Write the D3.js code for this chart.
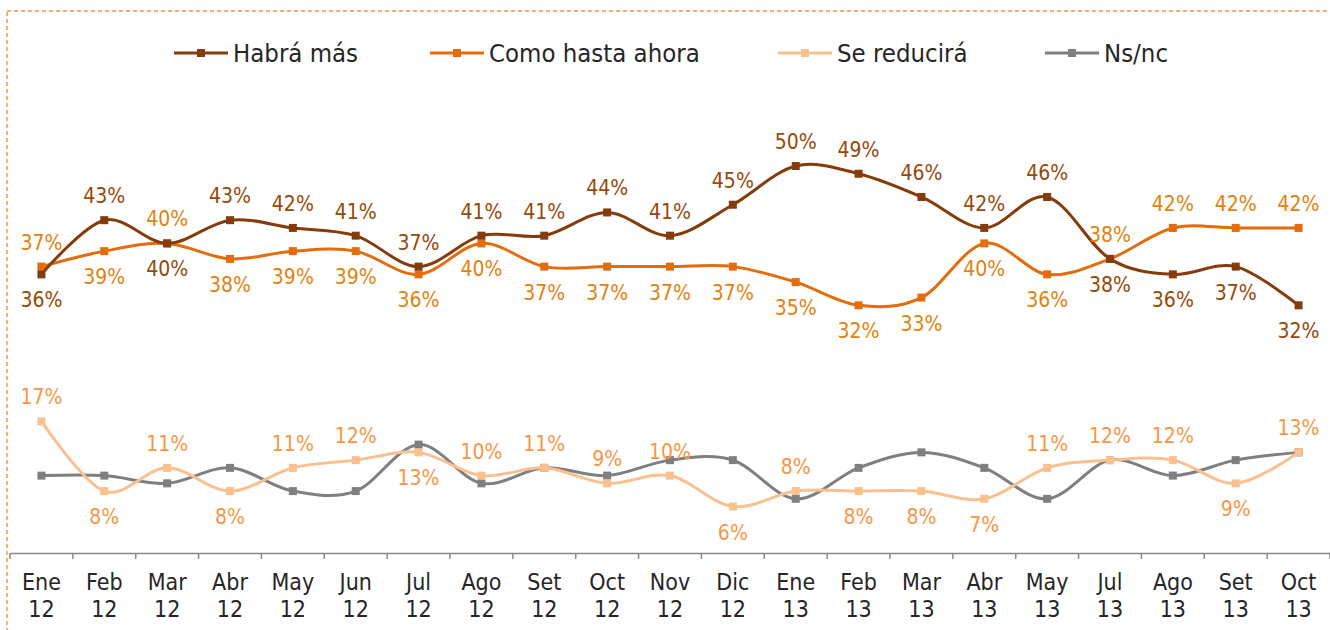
<!DOCTYPE html>
<html><head><meta charset="utf-8">
<script src="https://cdn.jsdelivr.net/npm/d3@7"></script>
<style>body{margin:0;background:#fff;} svg{display:block;}</style>
</head><body>
<svg id="chart" width="1330" height="630"></svg>
<script>
const categories = ["Ene 12","Feb 12","Mar 12","Abr 12","May 12","Jun 12","Jul 12","Ago 12","Set 12","Oct 12","Nov 12","Dic 12","Ene 13","Feb 13","Mar 13","Abr 13","May 13","Jul 13","Ago 13","Set 13","Oct 13"];
const habraMas       = [36,43,40,43,42,41,37,41,41,44,41,45,50,49,46,42,46,38,36,37,32];
const comoHastaAhora = [37,39,40,38,39,39,36,40,37,37,37,37,35,32,33,40,36,38,42,42,42];
const seReducira     = [17,8,11,8,11,12,13,10,11,9,10,6,8,8,8,7,11,12,12,9,13];
const nsNc           = [10,10,9,11,8,8,14,9,11,10,12,12,7,11,13,11,7,12,10,12,13];
const seriesNames = ["Habrá más","Como hasta ahora","Se reducirá","Ns/nc"];
// label placement: "a" above, "b" below
const habraSide = habraMas.map((v,i)=> v > comoHastaAhora[i] ? "a" : "b");
const comoSide  = comoHastaAhora.map((v,i)=> v >= habraMas[i] ? "a" : "b");
const seSide    = ["a","b","a","b","a","a","b","a","a","a","a","b","a","b","b","b","a","a","a","b","a"];

const lineColors  = ["#843C0C","#E46C0A","#FAC090","#7F7F7F"];
const labelColors = ["#984807","#E3820E","#F79646",null];

const svg = d3.select("#chart");
const FONT = "'DejaVu Sans Condensed','DejaVu Sans',sans-serif";

// dashed frame
svg.append("rect").attr("x",7).attr("y",11).attr("width",1340).attr("height",640)
  .attr("fill","none").attr("stroke","#F79646").attr("stroke-width",1.5).attr("stroke-dasharray","4,3");

const x = d3.scaleBand().domain(categories).range([10,1330]);
const y = d3.scaleLinear().domain([0,50]).range([553,166]);
const cx = c => x(c) + x.bandwidth()/2;

// axis
const axisG = svg.append("g").attr("transform","translate(0,553)");
axisG.call(d3.axisBottom(x).tickSize(0).tickFormat(()=>""));
axisG.select(".domain").attr("stroke","#898989").attr("stroke-width",1.5);
const bounds = categories.map(c=>x(c)).concat([x.range()[1]]);
axisG.selectAll("line.bt").data(bounds).join("line").attr("class","bt")
  .attr("x1",d=>d).attr("x2",d=>d).attr("y1",0).attr("y2",6)
  .attr("stroke","#898989").attr("stroke-width",1.5);
axisG.selectAll(".tick text").each(function(d){
  const parts = d.split(" ");
  const t = d3.select(this).text(null).attr("y",0).attr("dy",null)
    .attr("font-family",FONT).attr("font-size",23).attr("fill","#262626");
  t.append("tspan").attr("x",0).attr("y",37).text(parts[0]);
  t.append("tspan").attr("x",0).attr("y",64).text(parts[1]);
});

const series = [
  {name:seriesNames[0], values:habraMas, color:lineColors[0], lc:labelColors[0], side:habraSide},
  {name:seriesNames[1], values:comoHastaAhora, color:lineColors[1], lc:labelColors[1], side:comoSide},
  {name:seriesNames[3], values:nsNc, color:lineColors[3], lc:null, side:null},
  {name:seriesNames[2], values:seReducira, color:lineColors[2], lc:labelColors[2], side:seSide},
];
const line = d3.line().x((d,i)=>cx(categories[i])).y(d=>y(d)).curve(d3.curveCatmullRom.alpha(0));

// draw order: Ns/nc, Se reducirá, Como, Habrá
[series[2],series[3],series[1],series[0]].forEach(s=>{
  svg.append("path").datum(s.values).attr("d",line).attr("fill","none")
    .attr("stroke",s.color).attr("stroke-width",3);
  svg.append("g").selectAll("rect").data(s.values).join("rect")
    .attr("x",(d,i)=>cx(categories[i])-4).attr("y",d=>y(d)-4)
    .attr("width",8).attr("height",8).attr("fill",s.color);
});
// labels
series.forEach(s=>{
  if(!s.lc) return;
  svg.append("g").selectAll("text").data(s.values).join("text")
    .attr("x",(d,i)=>cx(categories[i]))
    .attr("y",(d,i)=> s.side[i]==="a" ? y(d)-17 : y(d)+33)
    .attr("text-anchor","middle").attr("font-family",FONT).attr("font-size",21)
    .attr("fill",s.lc).text(d=>d+"%");
});

// legend
const legendX = [174,430,778,1045];
legendX.forEach((lx,k)=>{
  const g = svg.append("g").attr("transform",`translate(${lx},53)`);
  g.append("line").attr("x1",0).attr("x2",54).attr("stroke",lineColors[k]).attr("stroke-width",3);
  g.append("rect").attr("x",23).attr("y",-4).attr("width",8).attr("height",8).attr("fill",lineColors[k]);
  g.append("text").attr("x",59).attr("y",9).attr("font-family",FONT).attr("font-size",25.5)
    .attr("fill","#262626").text(seriesNames[k]);
});
</script>
</body></html>
